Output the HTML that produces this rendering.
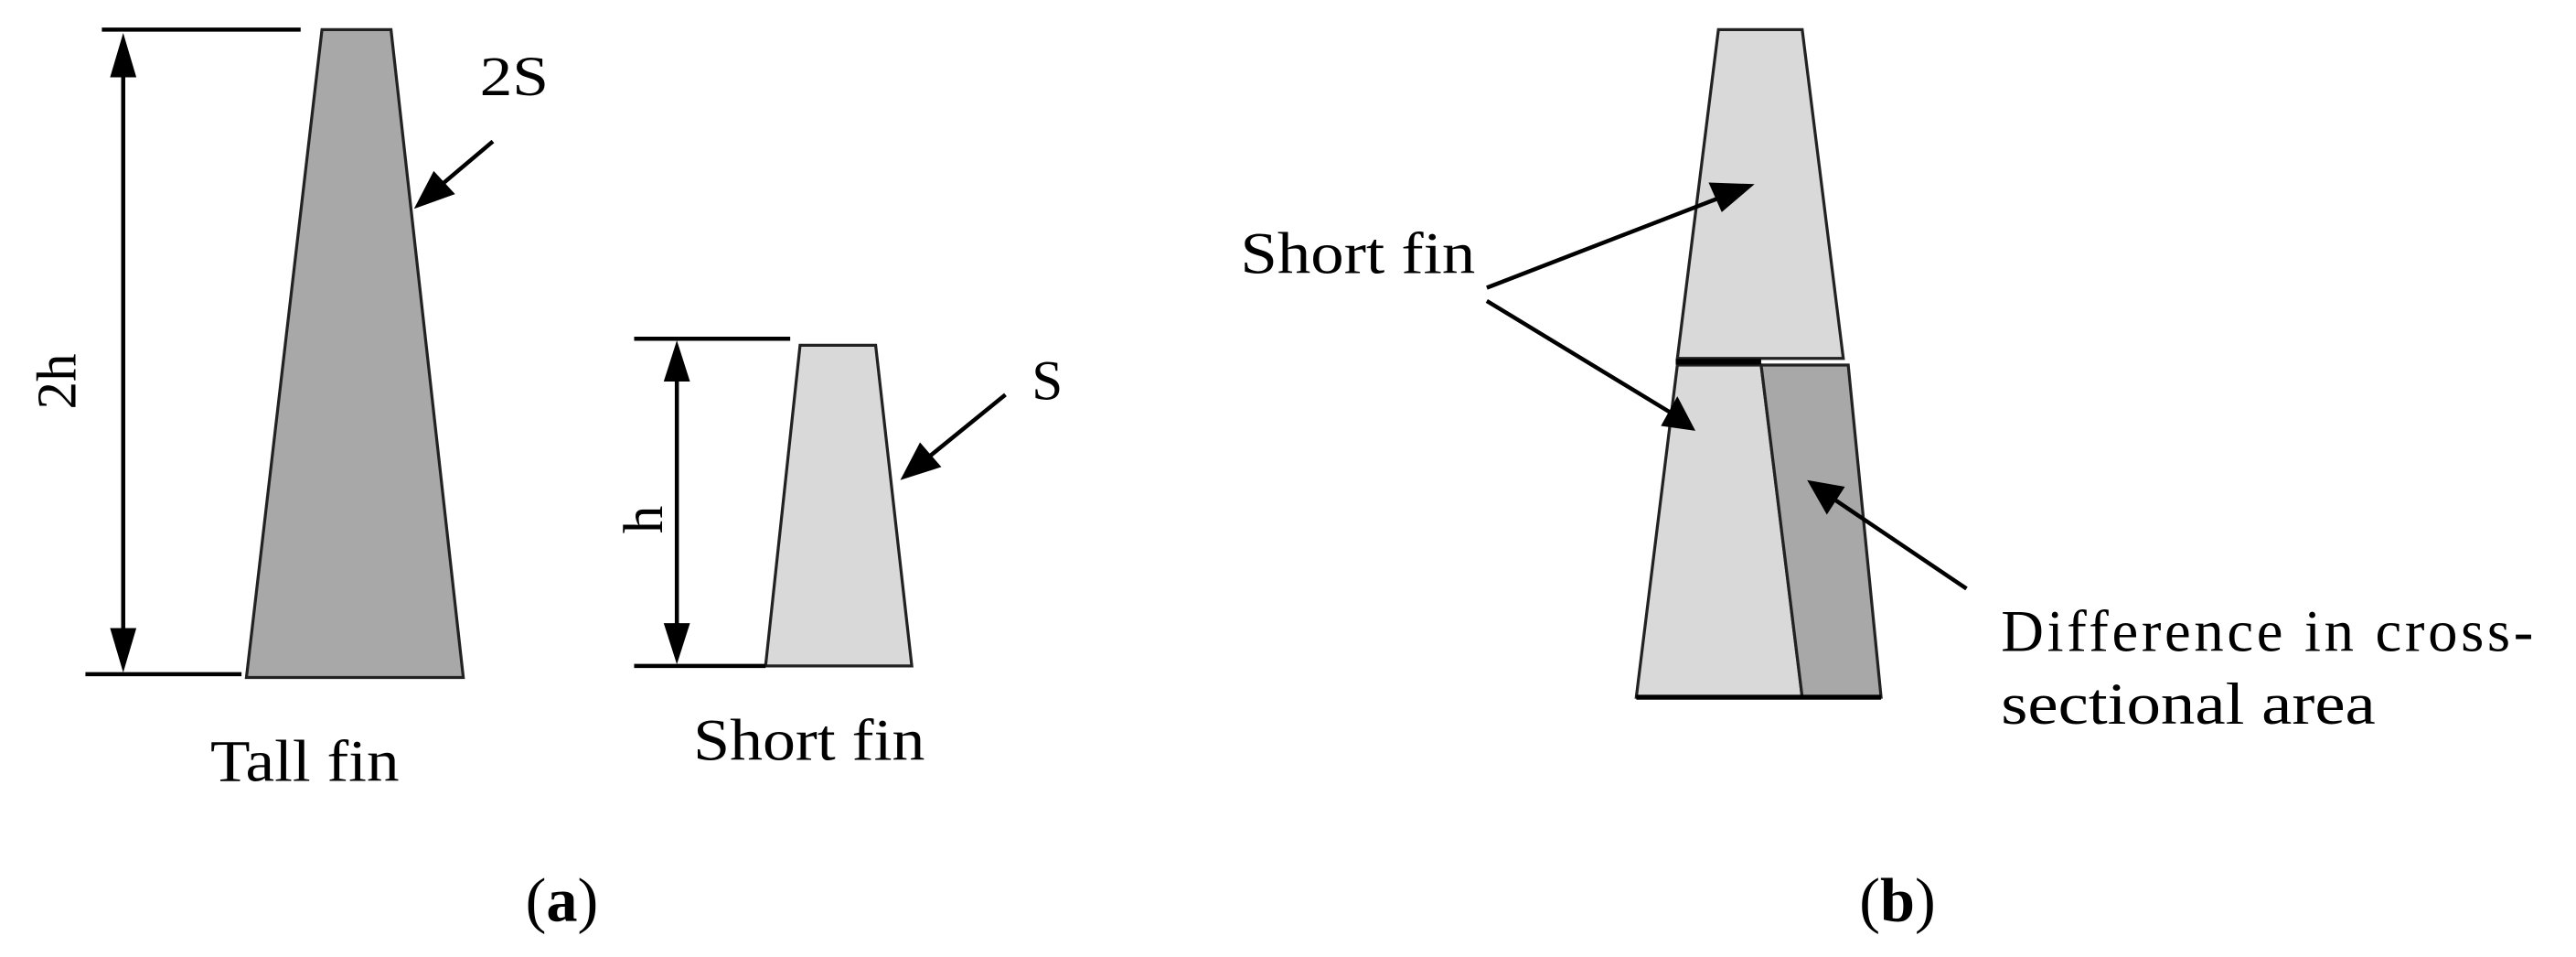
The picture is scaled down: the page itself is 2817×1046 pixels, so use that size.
<!DOCTYPE html>
<html><head><meta charset="utf-8"><style>
html,body{margin:0;padding:0;background:#fff;}
svg{display:block;}
text{font-family:"Liberation Serif",serif;fill:#000;}
</style></head><body>
<svg width="2817" height="1046" viewBox="0 0 1568 582" preserveAspectRatio="none" xmlns="http://www.w3.org/2000/svg">
<!-- Tall fin -->
<polygon points="196,18 238,18 282,412 150,412" fill="#a8a8a8" stroke="#222" stroke-width="1.8"/>
<line x1="62" y1="18" x2="183" y2="18" stroke="#000" stroke-width="2.5"/>
<line x1="52" y1="410" x2="147" y2="410" stroke="#000" stroke-width="2.5"/>
<line x1="75" y1="40" x2="75" y2="390" stroke="#000" stroke-width="2.5"/>
<polygon points="75,20 67,47 83,47" fill="#000"/>
<polygon points="75,409 67,382 83,382" fill="#000"/>
<text x="0" y="0" font-size="34" transform="translate(46,232) rotate(-90)" text-anchor="middle">2h</text>
<text x="292" y="58" font-size="34" textLength="42" lengthAdjust="spacingAndGlyphs">2S</text>
<line x1="300" y1="86" x2="268" y2="113" stroke="#000" stroke-width="2.5"/>
<polygon points="252,127 264,104 277,118" fill="#000"/>
<text x="128" y="475" font-size="36" textLength="115" lengthAdjust="spacingAndGlyphs">Tall fin</text>
<!-- Short fin (a) -->
<polygon points="487,210 533,210 555,405 466,405" fill="#d9d9d9" stroke="#222" stroke-width="1.8"/>
<line x1="386" y1="206" x2="481" y2="206" stroke="#000" stroke-width="2.5"/>
<line x1="386" y1="405" x2="466" y2="405" stroke="#000" stroke-width="2.5"/>
<line x1="412" y1="228" x2="412" y2="384" stroke="#000" stroke-width="2.5"/>
<polygon points="412,207 404,232 420,232" fill="#000"/>
<polygon points="412,404 404,379 420,379" fill="#000"/>
<text x="0" y="0" font-size="34" transform="translate(403,316) rotate(-90)" text-anchor="middle">h</text>
<text x="628" y="243" font-size="34">S</text>
<line x1="612" y1="240" x2="564" y2="279" stroke="#000" stroke-width="2.5"/>
<polygon points="548,292 560,269 573,284" fill="#000"/>
<text x="422" y="462" font-size="36" textLength="141" lengthAdjust="spacingAndGlyphs">Short fin</text>
<text x="342" y="560" font-size="38" text-anchor="middle">(<tspan font-weight="bold">a</tspan>)</text>
<!-- (b) -->
<polygon points="1046,18 1097,18 1122,218 1021,218" fill="#d9d9d9" stroke="#222" stroke-width="1.8"/>
<polygon points="1021,222 1072,222 1097,424 996,424" fill="#d9d9d9" stroke="#222" stroke-width="1.8"/>
<polygon points="1072,222 1125,222 1145,424 1097,424" fill="#a8a8a8" stroke="#222" stroke-width="1.8"/>
<line x1="1020" y1="220" x2="1072" y2="220" stroke="#000" stroke-width="3.5"/>
<line x1="996" y1="424" x2="1145" y2="424" stroke="#000" stroke-width="3"/>
<text x="755" y="166" font-size="36" textLength="143" lengthAdjust="spacingAndGlyphs">Short fin</text>
<line x1="905" y1="175" x2="1050" y2="119" stroke="#000" stroke-width="2.5"/>
<polygon points="1068,112 1048,129 1040,111" fill="#000"/>
<line x1="905" y1="183" x2="1017" y2="251" stroke="#000" stroke-width="2.5"/>
<polygon points="1032,262 1011,259 1021,241" fill="#000"/>
<line x1="1197" y1="358" x2="1114" y2="302" stroke="#000" stroke-width="2.5"/>
<polygon points="1100,292 1123,296 1112,313" fill="#000"/>
<text x="1218" y="396" font-size="36" textLength="324" lengthAdjust="spacing">Difference in cross-</text>
<text x="1218" y="440" font-size="36" textLength="228" lengthAdjust="spacingAndGlyphs">sectional area</text>
<text x="1155" y="560" font-size="38" text-anchor="middle">(<tspan font-weight="bold">b</tspan>)</text>
</svg>
</body></html>
